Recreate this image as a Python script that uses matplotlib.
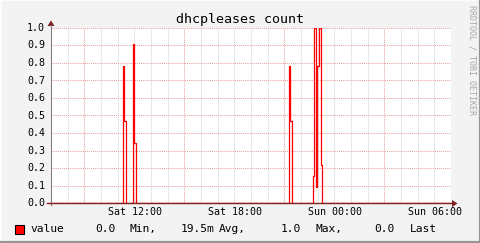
import matplotlib
matplotlib.use("Agg")
import matplotlib.pyplot as plt
from matplotlib.patches import Polygon, Rectangle
from matplotlib.lines import Line2D
from datetime import datetime, timedelta

# graph window: Sat 07:00 -> Sun 07:00
day = "2011-01-15"
start = datetime(2011, 1, 15, 7, 0)
end = start + timedelta(hours=24)

# step points (time the value changes, new value)
change_times = ["11:20", "11:24", "11:31",
                "11:56", "12:00", "12:06",
                "21:17", "21:21", "21:28",
                "22:42", "22:47", "22:53", "22:58", "23:06", "23:11", "23:15"]
change_values = [0.78, 0.47, 0.0,
                 0.91, 0.345, 0.0,
                 0.785, 0.47, 0.0,
                 0.155, 1.0, 0.09, 0.78, 1.0, 0.215, 0.0]

y_ticks = [0.0, 0.1, 0.2, 0.3, 0.4, 0.5, 0.6, 0.7, 0.8, 0.9, 1.0]
x_label_hours = [12, 18, 24, 30]
x_labels = ["Sat 12:00", "Sat 18:00", "Sun 00:00", "Sun 06:00"]
major_grid_hours = [9, 15, 21, 27]

legend_tokens = ["value", "0.0", "Min,", "19.5m", "Avg,", "1.0", "Max,", "0.0", "Last"]
legend_x = [30, 95, 129, 181, 218.5, 281, 315.5, 374, 409.5]

W, H = 481, 243
MONO = "DejaVu Sans Mono"


def fx(x):
    return x / W


def fy(y):
    return 1 - y / H


times = [start] + [datetime.strptime(day + " " + t, "%Y-%m-%d %H:%M") for t in change_times] + [end]
values = [0.0] + change_values + [0.0]

fig = plt.figure(figsize=(W / 100, H / 100), dpi=100, facecolor="#F3F3F3")
ax = fig.add_axes([fx(51), fy(203), 400 / W, 175 / H])
ax.set_facecolor("white")
ax.set_xlim(start, end)
ax.set_ylim(0, 1)
for s in ax.spines.values():
    s.set_visible(False)
ax.set_xticks([])
ax.set_yticks([])

dot = (0, (1, 1))
# minor grid every hour
for h in range(1, 24):
    t = start + timedelta(hours=h)
    if (h + 7) in major_grid_hours:
        continue
    ax.axvline(t, color="#D2D2D2", lw=0.75, ls=dot, zorder=1)
for h in major_grid_hours:
    ax.axvline(start.replace(hour=0) + timedelta(hours=h), color="#EBA0A0", lw=0.75, ls=dot, zorder=1)
for v in y_ticks[1:]:
    ax.axhline(v, color="#EBA0A0", lw=0.75, ls=dot, zorder=1)

ax.step(times, values, where="post", color="#FF0000", lw=0.9, zorder=3)

# axes lines and arrows
fig.add_artist(Line2D([fx(51), fx(51)], [fy(205), fy(25)], color="#808080", lw=0.8))
fig.add_artist(Line2D([fx(47), fx(453)], [fy(203.3), fy(203.3)], color="#7F1F1F", lw=1.0,
                      zorder=5))
fig.add_artist(Polygon([[fx(47.5), fy(26)], [fx(54.5), fy(26)], [fx(51), fy(20.5)]],
                       closed=True, color="#7F1F1F", lw=0))
fig.add_artist(Polygon([[fx(452), fy(200)], [fx(452), fy(207)], [fx(457.5), fy(203.5)]],
                       closed=True, color="#7F1F1F", lw=0))

# y labels
for v in y_ticks:
    y = 203 - v * 175
    fig.text(fx(45), fy(y), f"{v:.1f}", family=MONO, fontsize=7.2, ha="right", va="center")

# x labels
for h, lab in zip(x_label_hours, x_labels):
    x = 51 + (h - 7) * 400 / 24
    fig.text(fx(x + 1), fy(212), lab, family=MONO, fontsize=7.2, ha="center", va="center")

fig.text(0.5, fy(19), "dhcpleases count", family=MONO, fontsize=9.6, ha="center", va="center")

# legend
fig.add_artist(Rectangle((fx(15), fy(233.5)), 8.5 / W, 9 / H, facecolor="#FF0000",
                         edgecolor="black", lw=0.8))
for tok, x in zip(legend_tokens, legend_x):
    fig.text(fx(x), fy(229), tok, family=MONO, fontsize=8.1, ha="left", va="center")

fig.text(fx(472), fy(5), "RRDTOOL / TOBI OETIKER", family=MONO, fontsize=6, color="#A8A8A8",
         rotation=270, ha="center", va="top")

# 3d frame
fig.add_artist(Line2D([0, 1], [fy(0.5), fy(0.5)], color="#FFFFFF", lw=1.2))
fig.add_artist(Line2D([fx(0.5), fx(0.5)], [0, 1], color="#FFFFFF", lw=1.2))
fig.add_artist(Line2D([0, 1], [fy(242), fy(242)], color="#969696", lw=1.6))
fig.add_artist(Line2D([fx(480), fx(480)], [0, 1], color="#969696", lw=1.6))

fig.savefig("out.png", dpi=100, facecolor=fig.get_facecolor())
